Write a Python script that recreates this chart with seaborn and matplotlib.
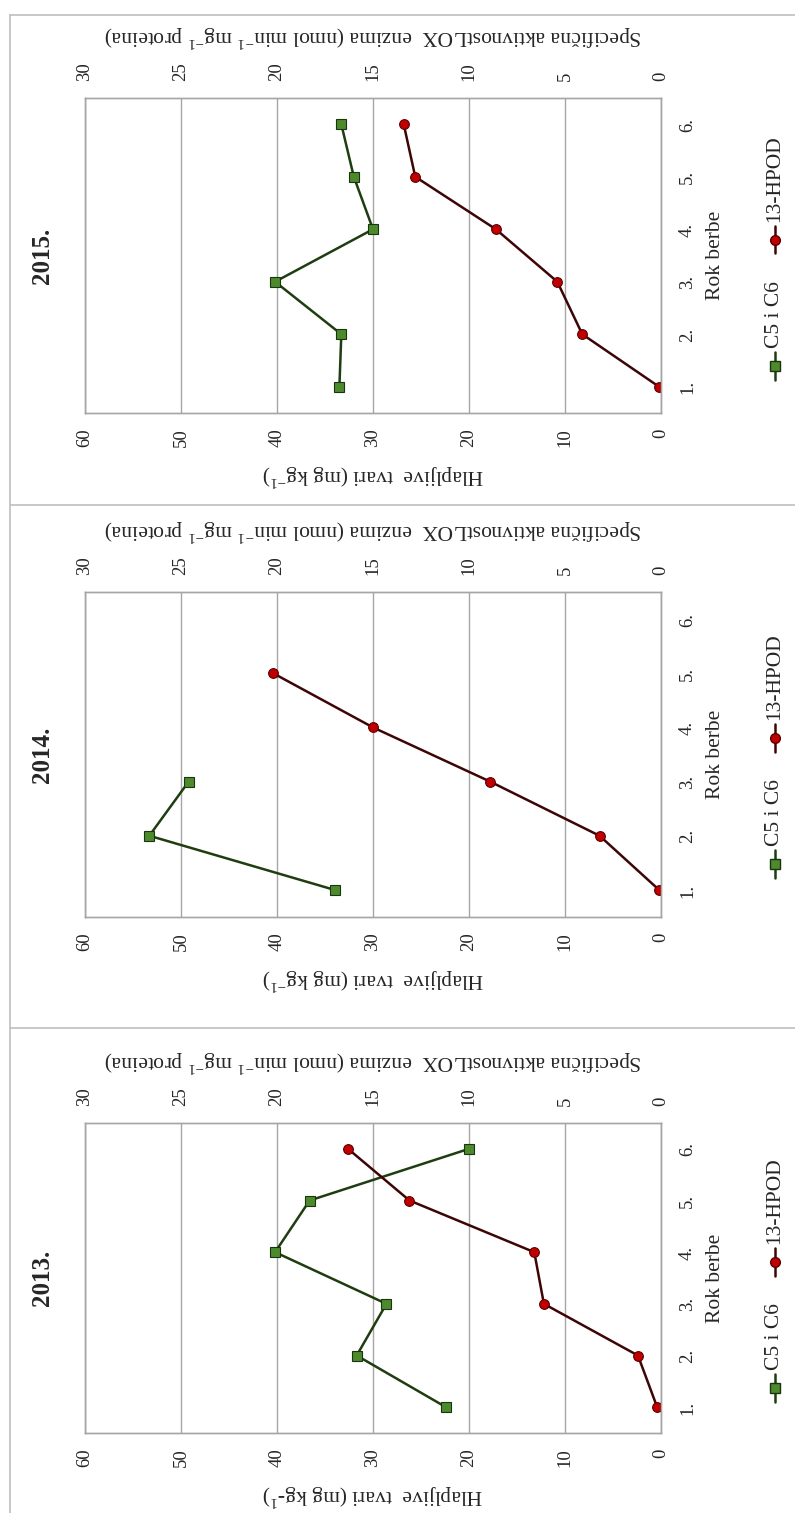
import matplotlib
matplotlib.use("Agg")
import matplotlib.pyplot as plt
from matplotlib.lines import Line2D
import seaborn as sns

# harvest dates (Rok berbe)
harvest = [1, 2, 3, 4, 5, 6]
harvest_labels = ["1.", "2.", "3.", "4.", "5.", "6."]

# C5 i C6 volatiles, mg/kg (left axis 0-60)
volatiles_2013 = [22.4, 31.7, 28.6, 40.2, 36.6, 20.0]
volatiles_2014 = [34.0, 53.3, 49.2]
volatiles_2015 = [33.5, 33.3, 40.2, 30.0, 32.0, 33.3]

# 13-HPOD, LOX specific activity (right axis 0-30)
hpod_2013 = [0.2, 1.2, 6.1, 6.6, 13.1, 16.3]
hpod_2014 = [0.1, 3.2, 8.9, 15.0, 20.2]
hpod_2015 = [0.1, 4.1, 5.4, 8.6, 12.8, 13.4]

vol_ticks = [0, 10, 20, 30, 40, 50, 60]
lox_ticks = [0, 5, 10, 15, 20, 25, 30]

sns.set_style("white")
plt.rcParams["font.family"] = ["Liberation Serif", "DejaVu Serif"]
plt.rcParams["mathtext.fontset"] = "custom"
plt.rcParams["mathtext.rm"] = "Liberation Serif"
plt.rcParams["mathtext.it"] = "Liberation Serif:italic"

W, H = 795, 1513
LEFT, RIGHT = 85, 661
GRID = "#a6a6a6"
GREEN_LINE, GREEN_FILL, GREEN_EDGE = "#1f3d10", "#4c8a2c", "#1a3310"
RED_LINE, RED_FILL, RED_EDGE = "#3d0505", "#c00000", "#5a0000"

vol_label = "Hlapljive  tvari (mg kg$^{-1}$)"
vol_label_2013 = "Hlapljive  tvari (mg kg-$^{1}$)"
lox_label = "Specifična aktivnostLOX  enzima (nmol min$^{-1}$ mg$^{-1}$ proteina)"

fig = plt.figure(figsize=(W / 100, H / 100), dpi=100)

green_kw = dict(color=GREEN_LINE, lw=1.8, marker="s", markersize=7,
                markerfacecolor=GREEN_FILL, markeredgecolor=GREEN_EDGE, markeredgewidth=0.8)
red_kw = dict(color=RED_LINE, lw=1.8, marker="o", markersize=7,
              markerfacecolor=RED_FILL, markeredgecolor=RED_EDGE, markeredgewidth=0.8)


def legend_entry(ax, box_h, offset, text, kw):
    # offset: pixels below the box centre in the picture
    cy = 0.5 - offset / box_h
    dy = 14 / box_h
    x = (775 - LEFT) / (RIGHT - LEFT)
    ax.add_artist(Line2D([x, x], [cy - dy, cy + dy], transform=ax.transAxes, clip_on=False,
                         color=kw["color"], lw=kw["lw"]))
    ax.add_artist(Line2D([x], [cy], transform=ax.transAxes, clip_on=False, ls="none",
                         marker=kw["marker"], markersize=kw["markersize"],
                         markerfacecolor=kw["markerfacecolor"], markeredgecolor=kw["markeredgecolor"]))
    ax.text(x, cy + dy + 4 / box_h, text, rotation=90, rotation_mode="anchor",
            ha="left", va="center", fontsize=15.5, transform=ax.transAxes)


def draw_panel(top, bottom, title, vol, hpod, ylab):
    box_h = bottom - top
    ax = fig.add_axes([LEFT / W, 1 - bottom / H, (RIGHT - LEFT) / W, box_h / H])
    ax2 = ax.twiny()

    sns.lineplot(x=vol, y=harvest[:len(vol)], orient="y", estimator=None,
                 ax=ax, **green_kw)
    sns.lineplot(x=hpod, y=harvest[:len(hpod)], orient="y", estimator=None,
                 ax=ax2, **red_kw)

    ax.set_xlim(60, 0)
    ax2.set_xlim(30, 0)
    ax.set_ylim(0.5, 6.5)
    ax.set_xticks(vol_ticks)
    ax2.set_xticks(lox_ticks)
    ax.set_yticks(harvest)
    ax.set_yticklabels(harvest_labels)
    ax.yaxis.tick_right()
    ax.yaxis.set_label_position("right")

    ax.grid(axis="x", color=GRID, lw=1)
    ax.grid(axis="y", visible=False)
    ax2.grid(False)
    ax.set_axisbelow(True)
    for a in (ax, ax2):
        for s in a.spines.values():
            s.set_color(GRID)
            s.set_linewidth(1)

    ax.tick_params(axis="x", length=0, pad=11, labelrotation=90, labelsize=13.5)
    ax2.tick_params(axis="x", length=0, pad=12, labelrotation=90, labelsize=13.5)
    ax.tick_params(axis="y", length=0, pad=13, labelrotation=90, labelsize=13.5)

    ax.set_xlabel(ylab, rotation=180, labelpad=11, fontsize=15.5)
    ax2.set_xlabel(lox_label, rotation=180, labelpad=15, fontsize=15.5)
    ax.set_ylabel("Rok berbe", rotation=90, labelpad=7, fontsize=15.5)

    ax.text(-0.073, 0.5, title, rotation=90, ha="center", va="center",
            fontsize=18, fontweight="bold", transform=ax.transAxes)

    legend_entry(ax, box_h, 110, "C5 i C6", green_kw)
    legend_entry(ax, box_h, -16, "13-HPOD", red_kw)


draw_panel(98, 413, "2015.", volatiles_2015, hpod_2015, vol_label)
draw_panel(592, 917, "2014.", volatiles_2014, hpod_2014, vol_label)
draw_panel(1123, 1433, "2013.", volatiles_2013, hpod_2013, vol_label_2013)

# outer frame and panel separators
frame = "#bfbfbf"
fig.add_artist(Line2D([10 / W, 10 / W], [0, 1 - 15 / H], transform=fig.transFigure, color=frame, lw=1.2))
for yy in (15, 505, 1028):
    fig.add_artist(Line2D([10 / W, 1], [1 - yy / H, 1 - yy / H], transform=fig.transFigure, color=frame, lw=1.2))

fig.savefig("out.png", dpi=100)
